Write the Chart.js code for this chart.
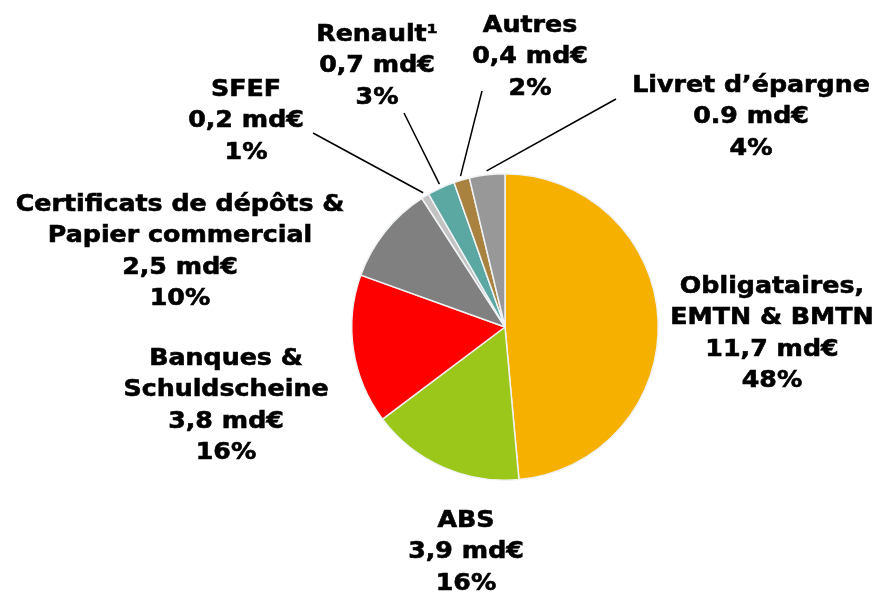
<!DOCTYPE html>
<html>
<head>
<meta charset="utf-8">
<script src="https://cdn.jsdelivr.net/npm/chart.js@4/dist/chart.umd.min.js"></script>
<style>
html,body{margin:0;padding:0;background:#fff;}
#wrap{width:884px;height:593px;position:relative;}
</style>
</head>
<body>
<div id="wrap"><canvas id="c" width="884" height="593"></canvas></div>
<script>
// ---- data ----
const categories = ["Obligataires, EMTN & BMTN", "ABS", "Banques & Schuldscheine", "Certificats de dépôts & Papier commercial", "SFEF", "Renault¹", "Autres", "Livret d’épargne"];
const labelLines = [["Obligataires,", "EMTN & BMTN"], ["ABS"], ["Banques &", "Schuldscheine"], ["Certificats de dépôts &", "Papier commercial"], ["SFEF"], ["Renault¹"], ["Autres"], ["Livret d’épargne"]];
const values = [11.7, 3.9, 3.8, 2.5, 0.2, 0.7, 0.4, 0.9];
const valueLabels = ["11,7 md€", "3,9 md€", "3,8 md€", "2,5 md€", "0,2 md€", "0,7 md€", "0,4 md€", "0.9 md€"];
const percentLabels = ["48%", "16%", "16%", "10%", "1%", "3%", "2%", "4%"];

// ---- styles / layout ----
const colors = ["#F5B000", "#9BC71A", "#FF0000", "#808080", "#C3C3C3", "#5BA8A2", "#A8823E", "#989898"];
const labelPos = [
  {x: 772, y: 287, lead: null},
  {x: 466, y: 521, lead: null},
  {x: 226, y: 359, lead: null},
  {x: 180, y: 205, lead: null},
  {x: 246, y: 90,  lead: {x: 313, y: 133}},
  {x: 377, y: 35,  lead: {x: 404, y: 113}},
  {x: 530, y: 26,  lead: {x: 482, y: 91}},
  {x: 751, y: 86,  lead: {x: 616, y: 99}}
];
const lineH = 31.5;
const FONT = "bold 23px 'DejaVu Sans', Verdana, sans-serif";
const XSCALE = 1.1;

const labelPlugin = {
  id: 'labels',
  afterDraw(chart) {
    const ctx = chart.ctx;
    const meta = chart.getDatasetMeta(0);
    ctx.save();
    ctx.strokeStyle = '#000';
    ctx.lineWidth = 1.5;
    meta.data.forEach((arc, i) => {
      const p = labelPos[i];
      if (p.lead) {
        const mid = (arc.startAngle + arc.endAngle) / 2;
        const r = arc.outerRadius + 4;
        const ex = arc.x + Math.cos(mid) * r;
        const ey = arc.y + Math.sin(mid) * r;
        ctx.beginPath();
        ctx.moveTo(p.lead.x, p.lead.y);
        ctx.lineTo(ex, ey);
        ctx.stroke();
      }
    });
    ctx.font = FONT;
    ctx.textAlign = 'center';
    ctx.textBaseline = 'middle';
    ctx.fillStyle = '#000';
    ctx.lineWidth = 0.6;
    meta.data.forEach((arc, i) => {
      const p = labelPos[i];
      const lines = labelLines[i].concat([valueLabels[i], percentLabels[i]]);
      lines.forEach((t, k) => {
        ctx.save();
        ctx.translate(p.x, p.y + k * lineH);
        ctx.scale(XSCALE, 1);
        ctx.fillText(t, 0, 0);
        ctx.strokeText(t, 0, 0);
        ctx.restore();
      });
    });
    ctx.restore();
  }
};

new Chart(document.getElementById('c'), {
  type: 'pie',
  data: {
    labels: categories,
    datasets: [{
      data: values,
      backgroundColor: colors,
      borderColor: '#F0F3F5',
      borderWidth: 1.5
    }]
  },
  options: {
    responsive: false,
    animation: false,
    rotation: 0,
    layout: {padding: {left: 351, right: 225, top: 173, bottom: 112}},
    plugins: {legend: {display: false}, tooltip: {enabled: false}}
  },
  plugins: [labelPlugin]
});
</script>
</body>
</html>
